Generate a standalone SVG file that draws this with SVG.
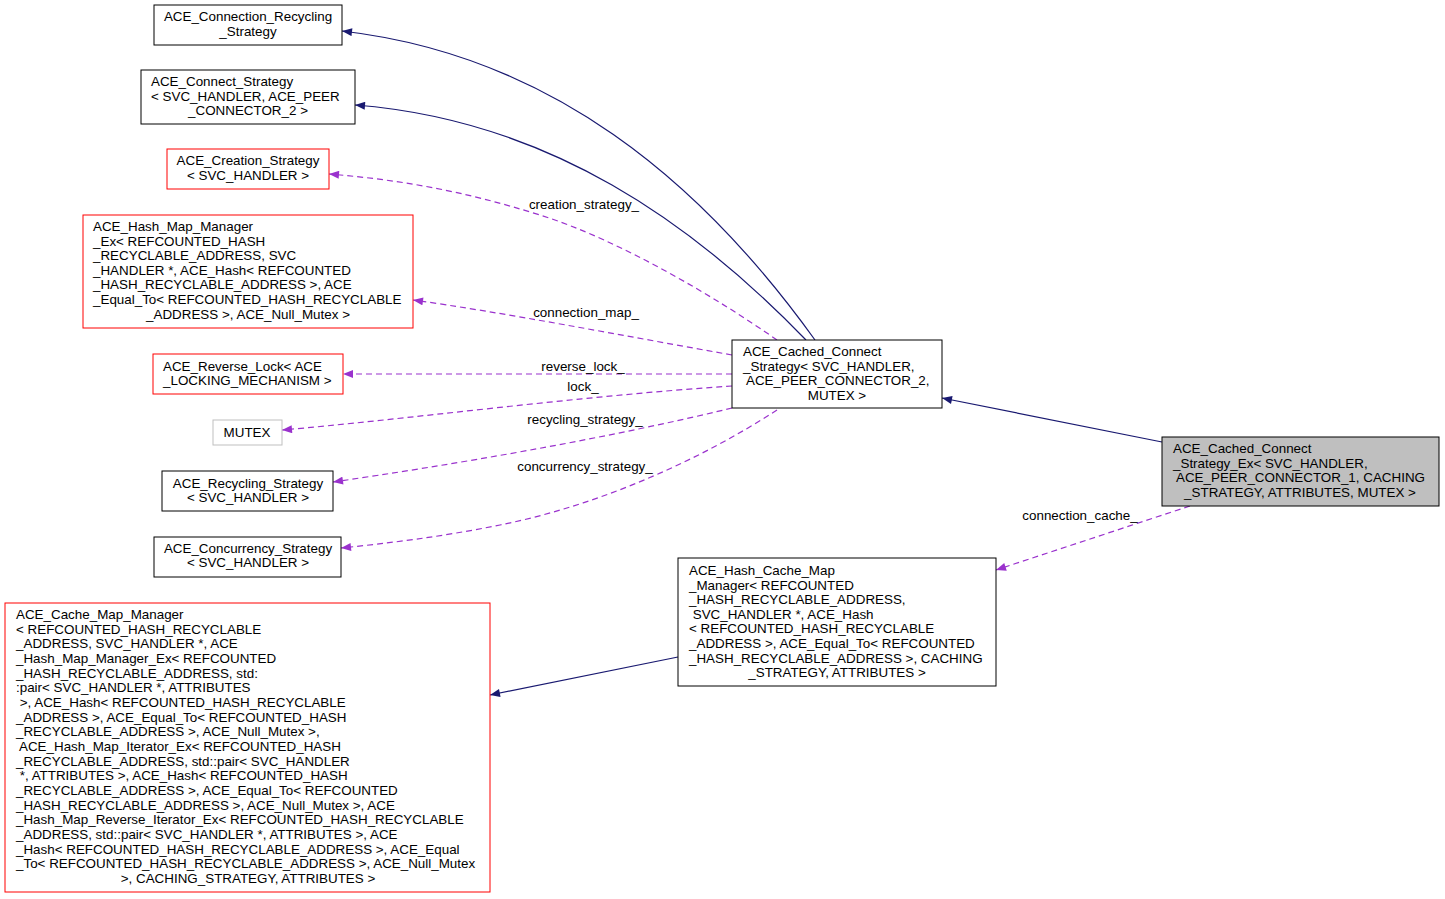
<svg xmlns="http://www.w3.org/2000/svg" width="1445" height="899" viewBox="0 0 1445 899">
<style>
text{font-family:"Liberation Sans",Arial,sans-serif;font-size:13.4px;fill:#000}
.c{text-anchor:middle}
.box{fill:#fff;stroke:#000;stroke-width:1}
.red{fill:#fff;stroke:#ff0000;stroke-width:1}
.gray{fill:#fff;stroke:#bfbfbf;stroke-width:1}
.sel{fill:#bfbfbf;stroke:#000;stroke-width:1}
.inh{fill:none;stroke:#191970;stroke-width:1.2}
.use{fill:none;stroke:#9a32cd;stroke-width:1.2;stroke-dasharray:6,4}
</style>
<defs>
<marker id="an" viewBox="0 0 10 8" refX="10" refY="4" markerWidth="11" markerHeight="8" markerUnits="userSpaceOnUse" orient="auto"><path d="M0,0L10,4L0,8z" fill="#191970"/></marker>
<marker id="ap" viewBox="0 0 10 8" refX="10" refY="4" markerWidth="11" markerHeight="8" markerUnits="userSpaceOnUse" orient="auto"><path d="M0,0L10,4L0,8z" fill="#9a32cd"/></marker>
</defs>
<rect width="1445" height="899" fill="#fff"/>
<g id="connectors">
<path class="inh" marker-end="url(#an)" d="M815,340C700,180 550,55 342,31"/>
<path class="inh" marker-end="url(#an)" d="M806,340C695,225 550,120 355,105"/>
<path class="inh" marker-end="url(#an)" d="M1162,442L942,398"/>
<path class="inh" marker-end="url(#an)" d="M678,657L490,695"/>
<path class="use" marker-end="url(#ap)" d="M777,340C720,300 620,240 540,215C460,190 400,180 329,174"/>
<path class="use" marker-end="url(#ap)" d="M732,355C620,335 500,312 413,300"/>
<path class="use" marker-end="url(#ap)" d="M732,374L343,374"/>
<path class="use" marker-end="url(#ap)" d="M732,386C580,396 400,420 282,430"/>
<path class="use" marker-end="url(#ap)" d="M732,408C600,440 450,465 333,482"/>
<path class="use" marker-end="url(#ap)" d="M777,410C700,460 600,505 500,525C440,537 390,543 341,548"/>
<path class="use" marker-end="url(#ap)" d="M1190,506L996,570"/>
<text class="c" x="584" y="209">creation_strategy_</text>
<text class="c" x="586" y="317">connection_map_</text>
<text class="c" x="583" y="371">reverse_lock_</text>
<text class="c" x="583" y="391">lock_</text>
<text class="c" x="585" y="424">recycling_strategy_</text>
<text class="c" x="585" y="471">concurrency_strategy_</text>
<text class="c" x="1080" y="520">connection_cache_</text>
</g>
<g id="n1"><rect class="box" x="154" y="5" width="188" height="40"/>
<text class="c" x="248" y="21">ACE_Connection_Recycling</text><text class="c" x="248" y="36">_Strategy</text></g>
<g id="n2"><rect class="box" x="141" y="70" width="214" height="54"/>
<text x="151" y="86">ACE_Connect_Strategy</text><text x="151" y="101">&lt; SVC_HANDLER, ACE_PEER</text><text class="c" x="248" y="115">_CONNECTOR_2 &gt;</text></g>
<g id="n3"><rect class="red" x="167" y="149" width="162" height="40"/>
<text class="c" x="248" y="165">ACE_Creation_Strategy</text><text class="c" x="248" y="180">&lt; SVC_HANDLER &gt;</text></g>
<g id="n4"><rect class="red" x="83" y="215" width="330" height="113"/>
<text x="93" y="231">ACE_Hash_Map_Manager</text>
<text x="93" y="245.6">_Ex&lt; REFCOUNTED_HASH</text>
<text x="93" y="260.2">_RECYCLABLE_ADDRESS, SVC</text>
<text x="93" y="274.8">_HANDLER *, ACE_Hash&lt; REFCOUNTED</text>
<text x="93" y="289.4">_HASH_RECYCLABLE_ADDRESS &gt;, ACE</text>
<text x="93" y="304">_Equal_To&lt; REFCOUNTED_HASH_RECYCLABLE</text>
<text class="c" x="248" y="318.6">_ADDRESS &gt;, ACE_Null_Mutex &gt;</text></g>
<g id="n5"><rect class="red" x="153" y="354" width="190" height="40"/>
<text x="163" y="371">ACE_Reverse_Lock&lt; ACE</text><text x="163" y="385">_LOCKING_MECHANISM &gt;</text></g>
<g id="n6"><rect class="gray" x="213" y="420" width="69" height="25"/>
<text class="c" x="247" y="437">MUTEX</text></g>
<g id="n7"><rect class="box" x="162" y="471" width="171" height="40"/>
<text class="c" x="248" y="488">ACE_Recycling_Strategy</text><text class="c" x="248" y="502">&lt; SVC_HANDLER &gt;</text></g>
<g id="n8"><rect class="box" x="154" y="537" width="187" height="40"/>
<text class="c" x="248" y="553">ACE_Concurrency_Strategy</text><text class="c" x="248" y="567">&lt; SVC_HANDLER &gt;</text></g>
<g id="n9"><rect class="red" x="5" y="603" width="485" height="289"/>
<text x="16" y="619">ACE_Cache_Map_Manager</text>
<text x="16" y="633.7">&lt; REFCOUNTED_HASH_RECYCLABLE</text>
<text x="16" y="648.3">_ADDRESS, SVC_HANDLER *, ACE</text>
<text x="16" y="663">_Hash_Map_Manager_Ex&lt; REFCOUNTED</text>
<text x="16" y="677.7">_HASH_RECYCLABLE_ADDRESS, std:</text>
<text x="16" y="692.3">:pair&lt; SVC_HANDLER *, ATTRIBUTES</text>
<text x="16" y="707" xml:space="preserve"> &gt;, ACE_Hash&lt; REFCOUNTED_HASH_RECYCLABLE</text>
<text x="16" y="721.7">_ADDRESS &gt;, ACE_Equal_To&lt; REFCOUNTED_HASH</text>
<text x="16" y="736.3">_RECYCLABLE_ADDRESS &gt;, ACE_Null_Mutex &gt;,</text>
<text x="16" y="751" xml:space="preserve"> ACE_Hash_Map_Iterator_Ex&lt; REFCOUNTED_HASH</text>
<text x="16" y="765.7">_RECYCLABLE_ADDRESS, std::pair&lt; SVC_HANDLER</text>
<text x="16" y="780.3" xml:space="preserve"> *, ATTRIBUTES &gt;, ACE_Hash&lt; REFCOUNTED_HASH</text>
<text x="16" y="795">_RECYCLABLE_ADDRESS &gt;, ACE_Equal_To&lt; REFCOUNTED</text>
<text x="16" y="809.7">_HASH_RECYCLABLE_ADDRESS &gt;, ACE_Null_Mutex &gt;, ACE</text>
<text x="16" y="824.3">_Hash_Map_Reverse_Iterator_Ex&lt; REFCOUNTED_HASH_RECYCLABLE</text>
<text x="16" y="839">_ADDRESS, std::pair&lt; SVC_HANDLER *, ATTRIBUTES &gt;, ACE</text>
<text x="16" y="853.7">_Hash&lt; REFCOUNTED_HASH_RECYCLABLE_ADDRESS &gt;, ACE_Equal</text>
<text x="16" y="868.3">_To&lt; REFCOUNTED_HASH_RECYCLABLE_ADDRESS &gt;, ACE_Null_Mutex</text>
<text class="c" x="248" y="883">&gt;, CACHING_STRATEGY, ATTRIBUTES &gt;</text></g>
<g id="n10"><rect class="box" x="732" y="340" width="210" height="68"/>
<text x="743" y="356">ACE_Cached_Connect</text>
<text x="743" y="370.6">_Strategy&lt; SVC_HANDLER,</text>
<text x="743" y="385.2" xml:space="preserve"> ACE_PEER_CONNECTOR_2,</text>
<text class="c" x="837" y="399.8">MUTEX &gt;</text></g>
<g id="n11"><rect class="sel" x="1162" y="437" width="277" height="69"/>
<text x="1173" y="453">ACE_Cached_Connect</text>
<text x="1173" y="467.6">_Strategy_Ex&lt; SVC_HANDLER,</text>
<text x="1173" y="482.2" xml:space="preserve"> ACE_PEER_CONNECTOR_1, CACHING</text>
<text class="c" x="1300" y="496.8">_STRATEGY, ATTRIBUTES, MUTEX &gt;</text></g>
<g id="n12"><rect class="box" x="678" y="558" width="318" height="128"/>
<text x="689" y="575">ACE_Hash_Cache_Map</text>
<text x="689" y="589.6">_Manager&lt; REFCOUNTED</text>
<text x="689" y="604.2">_HASH_RECYCLABLE_ADDRESS,</text>
<text x="689" y="618.8" xml:space="preserve"> SVC_HANDLER *, ACE_Hash</text>
<text x="689" y="633.4">&lt; REFCOUNTED_HASH_RECYCLABLE</text>
<text x="689" y="648">_ADDRESS &gt;, ACE_Equal_To&lt; REFCOUNTED</text>
<text x="689" y="662.6">_HASH_RECYCLABLE_ADDRESS &gt;, CACHING</text>
<text class="c" x="837" y="677.2">_STRATEGY, ATTRIBUTES &gt;</text></g>
</svg>
